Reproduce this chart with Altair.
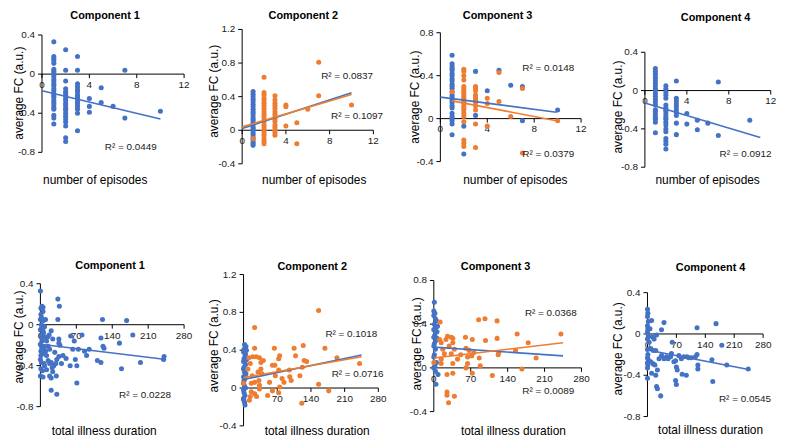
import altair as alt
import pandas as pd

BLUE = "#4472C4"
ORANGE = "#ED7D31"
FONT = "Liberation Sans"
W, H = 776, 430

# ---------------- data ----------------
titles = ["Component 1", "Component 2", "Component 3", "Component 4"]
xtitle_top = "number of episodes"
xtitle_bot = "total illness duration"
ytitle = "average FC (a.u.)"
xticks_top = [0, 4, 8, 12]
xticks_bot = [0, 70, 140, 210, 280]
yticks_a = [-0.8, -0.4, 0, 0.4]
yticks_b = [-0.4, 0, 0.4, 0.8, 1.2]
yticks_c = [-0.4, 0, 0.4, 0.8]

# Top row: number of episodes -> list of FC values per episode count
ep1_blue = {1: [0.33, 0.18, 0.16, 0.14, 0.11, 0.05, 0.03, 0.01, -0.02, -0.05, -0.07, -0.1, -0.12, -0.15,
                -0.17, -0.2, -0.22, -0.24, -0.27, -0.29, -0.31, -0.34, -0.36, -0.42, -0.45, -0.51],
            2: [0.25, 0.04, -0.07, -0.15, -0.18, -0.2, -0.22, -0.25, -0.27, -0.3, -0.32, -0.35, -0.37, -0.4,
                -0.43, -0.46, -0.49, -0.53, -0.65, -0.69],
            3: [0.18, 0.04, -0.1, -0.13, -0.16, -0.18, -0.21, -0.23, -0.25, -0.28, -0.3, -0.33, -0.36, -0.4, -0.58],
            4: [-0.25, -0.33, -0.39], 5: [-0.14, -0.29], 6: [-0.33], 7: [0.04, -0.45], 10: [-0.38]}
ep1_orange = {}

ep2_blue = {1: [0.46, 0.43, 0.4, 0.37, 0.34, 0.31, 0.28, 0.25, 0.22, 0.2, 0.17, 0.14, 0.12, 0.09, 0.07,
                0.04, 0.02, 0.0, -0.03, -0.05, -0.08, -0.11, -0.14, -0.16, -0.18]}
ep2_orange = {1: [-0.1],
              2: [0.63, 0.45, 0.42, 0.38, 0.35, 0.32, 0.29, 0.26, 0.22, 0.19, 0.16, 0.13, 0.1, 0.06, 0.03,
                  0.0, -0.03, -0.06, -0.1, -0.13, -0.16],
              3: [0.41, 0.36, 0.32, 0.29, 0.26, 0.22, 0.19, 0.16, 0.13, 0.1, 0.06, 0.03, 0.0, -0.03, -0.06],
              4: [0.3, 0.28, 0.05], 5: [0.09, -0.16], 6: [0.25], 7: [0.81, 0.41], 10: [0.3]}

ep3_blue = {1: [0.59, 0.51, 0.49, 0.47, 0.45, 0.42, 0.4, 0.37, 0.35, 0.32, 0.3, 0.28, 0.25, 0.22, 0.2,
                0.17, 0.15, 0.12, 0.1, 0.05, 0.02, 0.0, -0.02, -0.05, -0.15],
            2: [0.15, -0.07, -0.33], 3: [0.44, 0.17, 0.03], 4: [0.26], 5: [0.45], 6: [0.31],
            7: [0.3, -0.02], 10: [0.08]}
ep3_orange = {1: [0.25],
              2: [0.46, 0.44, 0.4, 0.36, 0.3, 0.28, 0.26, 0.24, 0.22, 0.2, 0.18, 0.15, 0.12, 0.1, 0.08,
                  0.05, 0.02, -0.03, -0.2, -0.23, -0.26],
              3: [0.3, 0.28, 0.26, 0.22, 0.2, 0.17, 0.15, 0.12, 0.08, -0.05, -0.27],
              4: [0.19, 0.14, -0.07], 5: [0.43, 0.16], 6: [0.02], 7: [0.28, -0.32], 10: [-0.02]}

ep4_blue = {1: [0.23, 0.2, 0.17, 0.14, 0.11, 0.08, 0.05, 0.02, 0.0, -0.03, -0.06, -0.09, -0.12, -0.15,
                -0.2, -0.22, -0.25, -0.28, -0.3, -0.33, -0.44],
            2: [0.05, 0.02, -0.02, -0.05, -0.08, -0.15, -0.18, -0.2, -0.22, -0.25, -0.28, -0.3, -0.33,
                -0.36, -0.4, -0.43, -0.5, -0.53, -0.56, -0.61],
            3: [0.1, -0.08, -0.11, -0.14, -0.17, -0.2, -0.23, -0.26, -0.34, -0.46],
            4: [-0.24, -0.35], 5: [-0.31, -0.41], 6: [-0.34], 7: [0.09, -0.47], 10: [-0.31]}
ep4_orange = {}

# Bottom row: (total illness duration, FC)
du1_blue = [(0, 0.33), (1, 0.16), (3, 0.18), (5, 0.17), (5, 0.13), (1, 0.1), (0, 0.05), (6, 0.04), (2, 0.0),
            (8, -0.02), (0, -0.05), (5, -0.06), (1, -0.11), (4, -0.13), (0, -0.19), (2, -0.21), (7, -0.22),
            (1, -0.26), (5, -0.28), (0, -0.34), (2, -0.37), (7, -0.38), (1, -0.43), (4, -0.45), (0, -0.5),
            (5, -0.51), (3, -0.03), (6, -0.08), (1, -0.3), (3, -0.16), (7, -0.12), (2, 0.07), (4, -0.09),
            (3, -0.24), (10, 0.05), (34, 0.25), (37, 0.18), (34, 0.05), (21, -0.06), (24, -0.14), (36, -0.14),
            (36, -0.18), (38, -0.2), (50, -0.33), (58, -0.4), (63, -0.24), (66, -0.16), (59, -0.11),
            (68, -0.34), (71, -0.4), (71, -0.57), (74, -0.24), (81, -0.1), (86, -0.26), (90, -0.3),
            (95, -0.24), (111, -0.35), (118, -0.37), (118, -0.13), (121, 0.05), (122, -0.21), (124, -0.23),
            (158, -0.43), (168, 0.04), (154, -0.18), (180, -0.1), (195, -0.37), (241, -0.31), (240, -0.34),
            (12, -0.3), (15, -0.35), (18, -0.38), (21, -0.37), (26, -0.4), (30, -0.38), (32, -0.34),
            (36, -0.31), (23, -0.42), (18, -0.5), (12, -0.44), (8, -0.4), (21, -0.52), (21, -0.64),
            (32, -0.68), (15, -0.21), (18, -0.24), (28, -0.27), (12, -0.16), (17, -0.1), (24, -0.46),
            (31, -0.5), (44, -0.3), (41, -0.38), (10, -0.26), (14, -0.12)]
du1_orange = []

du2_blue = [(2, 0.46), (5, 0.44), (1, 0.41), (6, 0.4), (0, 0.38), (3, 0.34), (1, 0.31), (0, 0.28), (4, 0.25),
            (1, 0.22), (0, 0.2), (2, 0.17), (5, 0.15), (0, 0.12), (3, 0.1), (1, 0.08), (0, 0.05), (2, 0.02),
            (4, 0.0), (0, -0.02), (1, -0.05), (3, -0.08), (0, -0.12), (2, -0.15), (3, -0.18), (6, 0.3), (4, 0.36)]
du2_orange = [(0, 0.05), (23, 0.64), (23, 0.42), (19, 0.33), (11, 0.32), (14, 0.26), (26, 0.33), (33, 0.32),
              (36, 0.27), (41, 0.29), (9, 0.2), (18, 0.13), (30, 0.17), (36, 0.2), (38, 0.15), (32, 0.08),
              (16, 0.05), (23, 0.06), (33, 0.03), (54, 0.06), (60, 0.24), (65, 0.24), (64, 0.42), (73, 0.31),
              (75, 0.34), (73, 0.19), (66, 0.13), (80, 0.1), (95, 0.19), (84, 0.06), (105, 0.42), (108, 0.34),
              (96, 0.12), (99, 0.08), (117, 0.13), (122, 0.22), (124, 0.45), (126, 0.29), (131, 0.28),
              (121, -0.16), (156, 0.82), (156, 0.04), (169, 0.42), (177, -0.03), (194, 0.32), (241, 0.26),
              (12, -0.13), (14, -0.09), (23, -0.06), (27, -0.09), (33, -0.01), (60, -0.03), (73, -0.05),
              (75, 0.01), (50, -0.08), (16, -0.04)]

du3_blue = [(1, 0.6), (0, 0.52), (2, 0.5), (0, 0.48), (3, 0.45), (5, 0.43), (1, 0.4), (4, 0.37), (0, 0.35),
            (6, 0.33), (2, 0.3), (0, 0.28), (4, 0.25), (1, 0.22), (0, 0.2), (3, 0.17), (1, 0.12), (0, 0.1),
            (5, 0.05), (2, 0.02), (0, 0.0), (3, -0.03), (8, -0.06), (4, -0.15), (6, 0.27), (7, 0.38)]
du3_orange = [(0, 0.05), (12, 0.42), (11, 0.26), (14, 0.23), (17, 0.17), (20, 0.13), (14, 0.04), (14, 0.08),
              (23, 0.26), (26, 0.29), (33, 0.28), (29, 0.2), (33, 0.13), (36, 0.04), (25, -0.06), (25, -0.22),
              (25, -0.25), (28, -0.32), (39, -0.26), (36, 0.27), (36, 0.23), (39, 0.17), (45, 0.08), (51, 0.12),
              (36, -0.05), (60, 0.28), (61, 0.18), (64, 0.1), (64, 0.04), (67, 0.16), (73, 0.26), (72, 0.11),
              (73, -0.05), (76, 0.14), (86, 0.09), (88, 0.02), (85, 0.44), (97, 0.45), (98, 0.25), (111, -0.07),
              (120, 0.43), (120, 0.27), (122, 0.12), (123, 0.14), (158, 0.31), (155, 0.16), (167, -0.01),
              (179, 0.23), (194, 0.09), (241, 0.31), (61, 0.0)]

du4_blue = [(0, 0.24), (1, 0.2), (0, 0.17), (2, 0.12), (0, 0.08), (1, 0.05), (0, 0.02), (2, -0.02), (0, -0.05),
            (4, -0.08), (0, -0.15), (1, -0.2), (0, -0.23), (2, -0.25), (0, -0.28), (1, -0.3), (0, -0.33),
            (0, -0.43), (10, 0.13), (6, 0.05), (12, -0.03), (16, -0.05), (22, -0.01), (40, 0.11), (34, 0.04),
            (8, -0.14), (14, -0.16), (20, -0.16), (8, -0.27), (14, -0.29), (18, -0.3), (10, -0.38), (20, -0.4),
            (24, -0.35), (28, -0.24), (22, -0.51), (24, -0.53), (32, -0.6), (34, -0.21), (40, -0.24),
            (46, -0.22), (50, -0.24), (56, -0.22), (58, -0.19), (60, -0.08), (64, -0.27), (68, -0.26),
            (70, -0.32), (72, -0.35), (68, -0.45), (70, -0.49), (76, -0.21), (82, -0.24), (84, -0.39),
            (88, -0.22), (94, -0.4), (96, -0.22), (100, -0.23), (106, -0.23), (116, -0.22), (120, -0.2),
            (120, 0.06), (122, -0.3), (122, -0.34), (156, -0.25), (158, -0.46), (166, 0.1), (180, -0.11),
            (192, -0.3), (244, -0.34)]
du4_orange = []

# trendline end points: (colour, x0, y0, x1, y1)
lines_top = [
    [(BLUE, 0, -0.17, 10, -0.46)],
    [(BLUE, 0, 0.02, 10, 0.445), (ORANGE, 0, 0.04, 10, 0.425)],
    [(BLUE, 0, 0.2, 9.9, 0.06), (ORANGE, 1, 0.165, 9.9, -0.02)],
    [(BLUE, 0, -0.13, 11, -0.49)],
]
lines_bot = [
    [(BLUE, 0, -0.19, 245, -0.34)],
    [(BLUE, 0, 0.09, 245, 0.35), (ORANGE, 0, 0.11, 245, 0.33)],
    [(BLUE, 0, 0.19, 245, 0.11), (ORANGE, 0, 0.09, 245, 0.23)],
    [(BLUE, 0, -0.155, 245, -0.345)],
]
# R² labels (text, x, y) in data units
r2_top = [
    [("R² = 0.0449", 7.5, -0.75)],
    [("R² = 0.0837", 9.6, 0.65), ("R² = 0.1097", 10.5, 0.17)],
    [("R² = 0.0148", 9.2, 0.47), ("R² = 0.0379", 9.2, -0.33)],
    [("R² = 0.0912", 9.6, -0.66)],
]
r2_bot = [
    [("R² = 0.0228", 204, -0.69)],
    [("R² = 0.1018", 224, 0.57), ("R² = 0.0716", 237, 0.15)],
    [("R² = 0.0368", 222, 0.5), ("R² = 0.0089", 217, -0.21)],
    [("R² = 0.0545", 236, -0.63)],
]


def cols(d):
    return [(k, v) for k, vals in d.items() for v in vals]


# ---------------- layout (pixels inside the canvas) ----------------
panels = [
    dict(blue=cols(ep1_blue), orange=cols(ep1_orange), lines=lines_top[0], r2=r2_top[0], title=titles[0],
         xdom=[0, 12], ydom=[-0.8, 0.4], xr=[34.3, 177.7], yr=[143.7, 25.3], xticks=xticks_top, yticks=yticks_a,
         xtitle=xtitle_top, tpos=(98, 6.5), ytpos=(5, 84), xtpos=(88, 172)),
    dict(blue=cols(ep2_blue), orange=cols(ep2_orange), lines=lines_top[1], r2=r2_top[1], title=titles[1],
         xdom=[0, 12], ydom=[-0.4, 1.2], xr=[236.3, 368.7], yr=[155.3, 19.7], xticks=xticks_top, yticks=yticks_b,
         xtitle=xtitle_top, tpos=(298, 6.5), ytpos=(202, 82), xtpos=(309, 172)),
    dict(blue=cols(ep3_blue), orange=cols(ep3_orange), lines=lines_top[2], r2=r2_top[2], title=titles[2],
         xdom=[0, 12], ydom=[-0.4, 0.8], xr=[436.3, 578.3], yr=[153, 23], xticks=xticks_top, yticks=yticks_c,
         xtitle=xtitle_top, tpos=(494, 6.5), ytpos=(405, 88), xtpos=(512, 172)),
    dict(blue=cols(ep4_blue), orange=cols(ep4_orange), lines=lines_top[3], r2=r2_top[3], title=titles[3],
         xdom=[0, 12], ydom=[-0.8, 0.4], xr=[642.7, 769.7], yr=[158.7, 42.7], xticks=xticks_top, yticks=yticks_a,
         xtitle=xtitle_top, tpos=(714, 8), ytpos=(610, 98), xtpos=(706, 172)),
    dict(blue=du1_blue, orange=du1_orange, lines=lines_bot[0], r2=r2_bot[0], title=titles[0],
         xdom=[0, 280], ydom=[-0.8, 0.4], xr=[32.7, 177.7], yr=[400.3, 276.3], xticks=xticks_bot, yticks=yticks_a,
         xtitle=xtitle_bot, tpos=(103, 258), ytpos=(5, 330), xtpos=(97, 425)),
    dict(blue=du2_blue, orange=du2_orange, lines=lines_bot[1], r2=r2_bot[1], title=titles[1],
         xdom=[0, 280], ydom=[-0.4, 1.2], xr=[237.7, 373.7], yr=[419.7, 267], xticks=xticks_bot, yticks=yticks_b,
         xtitle=xtitle_bot, tpos=(307, 259), ytpos=(202, 339), xtpos=(312, 425)),
    dict(blue=du3_blue, orange=du3_orange, lines=lines_bot[2], r2=r2_bot[2], title=titles[2],
         xdom=[0, 280], ydom=[-0.4, 0.8], xr=[429.7, 578.7], yr=[405.3, 273], xticks=xticks_bot, yticks=yticks_c,
         xtitle=xtitle_bot, tpos=(492, 259), ytpos=(407, 337), xtpos=(510, 425)),
    dict(blue=du4_blue, orange=du4_orange, lines=lines_bot[3], r2=r2_bot[3], title=titles[3],
         xdom=[0, 280], ydom=[-0.8, 0.4], xr=[645.3, 762], yr=[410.3, 285.3], xticks=xticks_bot, yticks=yticks_a,
         xtitle=xtitle_bot, tpos=(709, 260), ytpos=(610, 342), xtpos=(709, 424)),
]

LABEL = dict(font=FONT, fontSize=10, color="#1a1a1a")


def make_panel(p):
    xsc = alt.Scale(domain=p["xdom"], range=p["xr"], nice=False, zero=False)
    ysc = alt.Scale(domain=p["ydom"], range=p["yr"], nice=False, zero=False)

    def X(f):
        return alt.X(f, type="quantitative", scale=xsc, axis=None)

    def Y(f):
        return alt.Y(f, type="quantitative", scale=ysc, axis=None)

    layers = []
    # --- axes drawn from tick arrays through the panel scales ---
    ydf = pd.DataFrame({"v": p["yticks"], "lab": [f"{v:g}" for v in p["yticks"]], "z": 0.0})
    xdf = pd.DataFrame({"v": p["xticks"], "lab": [f"{v:g}" for v in p["xticks"]], "z": 0.0})
    dom = pd.DataFrame({"z": [0.0], "ya": [p["ydom"][0]], "yb": [p["ydom"][1]],
                        "xa": [p["xdom"][0]], "xb": [p["xdom"][1]]})
    layers.append(alt.Chart(dom).mark_rule(color="#000000", strokeWidth=1).encode(x=X("z"), y=Y("ya"), y2="yb"))
    layers.append(alt.Chart(dom).mark_rule(color="#000000", strokeWidth=1).encode(x=X("xa"), x2="xb", y=Y("z")))
    layers.append(alt.Chart(ydf).mark_rule(color="#000000", strokeWidth=1, x2Offset=-4).encode(
        x=X("z"), x2="z", y=Y("v")))
    layers.append(alt.Chart(xdf).mark_rule(color="#000000", strokeWidth=1, y2Offset=4).encode(
        x=X("v"), y=Y("z"), y2="z"))
    layers.append(alt.Chart(ydf).mark_text(align="right", baseline="middle", dx=-7, **LABEL).encode(
        x=X("z"), y=Y("v"), text="lab:N"))
    layers.append(alt.Chart(xdf).mark_text(align="center", baseline="top", dy=6, **LABEL).encode(
        x=X("v"), y=Y("z"), text="lab:N"))

    # --- points and trendlines ---
    for pts, color in [(p["blue"], BLUE), (p["orange"], ORANGE)]:
        if not pts:
            continue
        df = pd.DataFrame(pts, columns=["x", "y"])
        layers.append(alt.Chart(df).mark_circle(color=color, size=26, opacity=1).encode(x=X("x"), y=Y("y")))
    for color, x0, ya, x1, yb in p["lines"]:
        ldf = pd.DataFrame({"x": [x0, x1], "y": [ya, yb]})
        layers.append(alt.Chart(ldf).mark_line(color=color, strokeWidth=1.6).encode(x=X("x"), y=Y("y")))

    rdf = pd.DataFrame(p["r2"], columns=["t", "x", "y"])
    layers.append(alt.Chart(rdf).mark_text(align="center", baseline="middle", **LABEL).encode(
        x=X("x"), y=Y("y"), text="t:N"))

    # --- titles ---
    tdf = pd.DataFrame({"t": [p["title"]]})
    layers.append(alt.Chart(tdf).mark_text(font=FONT, fontSize=11, fontWeight="bold", color="#000000",
                                           align="center", baseline="middle").encode(
        x=alt.value(p["tpos"][0]), y=alt.value(p["tpos"][1]), text="t:N"))
    xtdf = pd.DataFrame({"t": [p["xtitle"]]})
    layers.append(alt.Chart(xtdf).mark_text(font=FONT, fontSize=12, color="#000000",
                                            align="center", baseline="middle").encode(
        x=alt.value(p["xtpos"][0]), y=alt.value(p["xtpos"][1]), text="t:N"))
    ytdf = pd.DataFrame({"t": [ytitle]})
    layers.append(alt.Chart(ytdf).mark_text(font=FONT, fontSize=12, color="#000000", angle=270,
                                            align="center", baseline="middle").encode(
        x=alt.value(p["ytpos"][0] + 6), y=alt.value(p["ytpos"][1]), text="t:N"))
    return alt.layer(*layers)


chart = (
    alt.layer(*[make_panel(p) for p in panels])
    .resolve_scale(x="independent", y="independent")
    .properties(width=W, height=H, autosize=alt.AutoSizeParams(type="none"), padding=0, background="white")
    .configure_view(stroke="transparent")
)

chart.save("out.html", embed_options={"renderer": "svg", "actions": False})
